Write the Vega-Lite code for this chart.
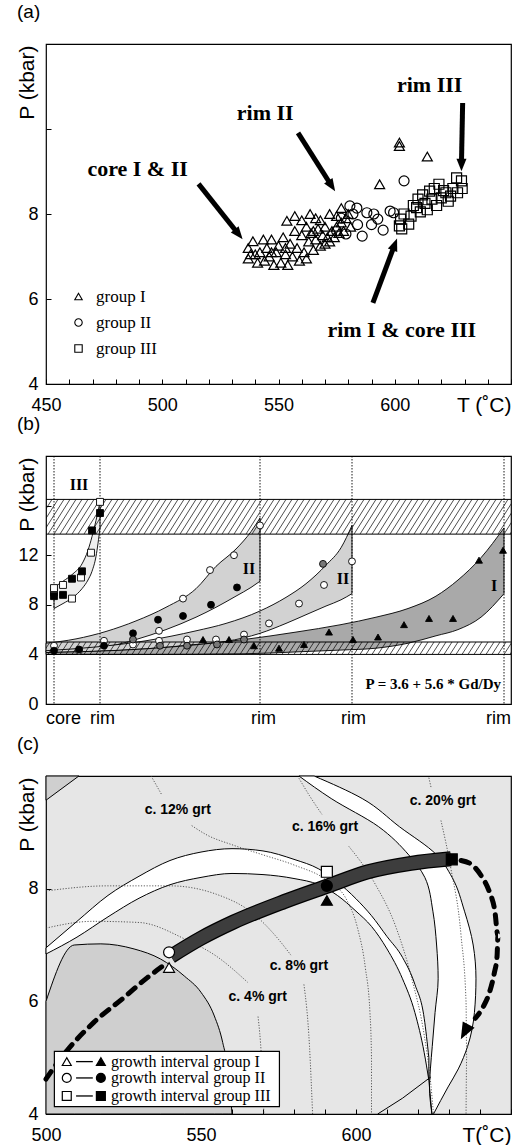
{
"$schema":"https://vega.github.io/schema/vega-lite/v6.json",
"background":"white",
"padding":{"left":15,"top":2,"right":2,"bottom":0},
"bounds":"flush",
"spacing":72,
"resolve":{"scale":{"shape":"independent","fill":"independent"},"legend":{"shape":"independent","fill":"independent"}},
"config":{
  "view":{"stroke":"black","strokeWidth":1.2},
  "font":"Liberation Sans",
  "axis":{"grid":false,"domain":false,"tickColor":"black","tickSize":-5,"tickWidth":1,"labelFontSize":18,"labelColor":"black","labelFont":"Liberation Sans","titleFont":"Liberation Sans","titleFontSize":21,"titleFontWeight":"normal","titleColor":"black","labelOverlap":false,"format":"d"},
  "axisX":{"labelPadding":17,"labelFlush":false,"titleAlign":"right","titleX":465,"titleY":21,"titleBaseline":"middle"},
  "axisY":{"labelPadding":13,"titleAngle":270,"titleAlign":"right","titleX":-19,"titleY":1,"titleBaseline":"middle"},
  "title":{"anchor":"start","frame":"group","dx":-29,"fontSize":19,"fontWeight":"normal","font":"Liberation Sans","offset":13,"color":"black"}
},
"datasets":{
  "pa":[
    {"g":"group I","T":537,"P":7.2},{"g":"group I","T":537,"P":6.95},{"g":"group I","T":538,"P":7.05},{"g":"group I","T":539,"P":7.36},{"g":"group I","T":541,"P":6.85},{"g":"group I","T":542,"P":7.1},{"g":"group I","T":543.5,"P":7.4},{"g":"group I","T":544,"P":6.9},{"g":"group I","T":545,"P":7.2},{"g":"group I","T":546,"P":7.0},{"g":"group I","T":547,"P":7.4},{"g":"group I","T":548,"P":6.8},{"g":"group I","T":549,"P":7.1},{"g":"group I","T":550,"P":7.25},{"g":"group I","T":551,"P":6.85},{"g":"group I","T":552,"P":7.45},{"g":"group I","T":553,"P":7.05},{"g":"group I","T":553.6,"P":7.84},{"g":"group I","T":554,"P":6.8},{"g":"group I","T":555,"P":7.3},{"g":"group I","T":556,"P":7.0},{"g":"group I","T":557,"P":7.95},{"g":"group I","T":557,"P":7.6},{"g":"group I","T":558,"P":7.2},{"g":"group I","T":559,"P":6.9},{"g":"group I","T":560,"P":7.5},{"g":"group I","T":560,"P":7.85},{"g":"group I","T":561,"P":7.1},{"g":"group I","T":562,"P":7.7},{"g":"group I","T":562,"P":6.95},{"g":"group I","T":563,"P":7.35},{"g":"group I","T":563.6,"P":8.0},{"g":"group I","T":564,"P":7.55},{"g":"group I","T":565,"P":7.15},{"g":"group I","T":566,"P":7.9},{"g":"group I","T":566,"P":7.4},{"g":"group I","T":567,"P":7.65},{"g":"group I","T":568,"P":7.25},{"g":"group I","T":568,"P":7.85},{"g":"group I","T":569,"P":7.5},{"g":"group I","T":570,"P":7.3},{"g":"group I","T":570,"P":7.7},{"g":"group I","T":571,"P":7.45},{"g":"group I","T":572,"P":8.0},{"g":"group I","T":572,"P":7.35},{"g":"group I","T":573,"P":7.6},{"g":"group I","T":574,"P":7.45},{"g":"group I","T":575,"P":7.95},{"g":"group I","T":575,"P":7.7},{"g":"group I","T":576,"P":7.55},{"g":"group I","T":577,"P":8.14},{"g":"group I","T":577,"P":7.8},{"g":"group I","T":578,"P":7.6},{"g":"group I","T":579,"P":7.9},{"g":"group I","T":580,"P":8.0},{"g":"group I","T":581,"P":7.7},{"g":"group I","T":547,"P":7.1},{"g":"group I","T":540,"P":7.05},{"g":"group I","T":553,"P":7.2},{"g":"group I","T":565,"P":7.6},{"g":"group I","T":593.5,"P":8.7},{"g":"group I","T":602,"P":9.6},{"g":"group I","T":602,"P":9.68},{"g":"group I","T":614,"P":9.35},
    {"g":"group II","T":580.7,"P":8.19},{"g":"group II","T":583.7,"P":8.14},{"g":"group II","T":588,"P":8.03},{"g":"group II","T":591,"P":8.0},{"g":"group II","T":592.7,"P":7.88},{"g":"group II","T":595,"P":7.62},{"g":"group II","T":586,"P":7.48},{"g":"group II","T":579,"P":7.53},{"g":"group II","T":582,"P":8.0},{"g":"group II","T":598,"P":8.07},{"g":"group II","T":599.5,"P":8.03},{"g":"group II","T":604,"P":8.78},{"g":"group II","T":577,"P":7.9},{"g":"group II","T":575,"P":7.6},{"g":"group II","T":584,"P":7.75},{"g":"group II","T":590,"P":7.75},
    {"g":"group III","T":602,"P":7.72},{"g":"group III","T":603,"P":7.65},{"g":"group III","T":602.5,"P":7.88},{"g":"group III","T":604,"P":8.0},{"g":"group III","T":606,"P":7.76},{"g":"group III","T":607,"P":7.95},{"g":"group III","T":608,"P":8.2},{"g":"group III","T":609.4,"P":8.15},{"g":"group III","T":610,"P":8.35},{"g":"group III","T":611,"P":8.05},{"g":"group III","T":612,"P":8.45},{"g":"group III","T":613,"P":8.25},{"g":"group III","T":614,"P":8.1},{"g":"group III","T":615,"P":8.54},{"g":"group III","T":616,"P":8.35},{"g":"group III","T":617,"P":8.6},{"g":"group III","T":618,"P":8.2},{"g":"group III","T":619,"P":8.7},{"g":"group III","T":620,"P":8.38},{"g":"group III","T":621,"P":8.55},{"g":"group III","T":622,"P":8.5},{"g":"group III","T":623,"P":8.3},{"g":"group III","T":624,"P":8.42},{"g":"group III","T":625,"P":8.6},{"g":"group III","T":626.6,"P":8.85},{"g":"group III","T":628.7,"P":8.78},{"g":"group III","T":629,"P":8.6},{"g":"group III","T":627,"P":8.5}
  ],
  "arrA":[{"n":1,"T1":515.6,"P1":8.71,"T2":532.3,"P2":7.56},{"n":2,"T1":558.4,"P1":9.91,"T2":572.4,"P2":8.7},{"n":3,"T1":629.2,"P1":10.61,"T2":628.7,"P2":9.2},{"n":4,"T1":590.6,"P1":5.91,"T2":599.7,"P2":7.24}],
  "labA":[{"t":"core I & II","T":489.4,"P":9.06},{"t":"rim II","T":544.3,"P":10.38},{"t":"rim III","T":615,"P":11.04},{"t":"rim I & core III","T":603,"P":5.27}],
  "bands":[
    {"b":"IIa","u":0,"hi":4.9,"lo":4.2},{"b":"IIa","u":30,"hi":5.25,"lo":4.35},{"b":"IIa","u":60,"hi":5.85,"lo":4.6},{"b":"IIa","u":90,"hi":6.7,"lo":5.2},{"b":"IIa","u":120,"hi":7.8,"lo":6.0},{"b":"IIa","u":150,"hi":9.3,"lo":7.0},{"b":"IIa","u":170,"hi":11.1,"lo":7.8},{"b":"IIa","u":190,"hi":12.5,"lo":8.7},{"b":"IIa","u":205,"hi":13.9,"lo":9.4},{"b":"IIa","u":214,"hi":15.0,"lo":9.9},
    {"b":"IIb","u":0,"hi":4.3,"lo":4.15},{"b":"IIb","u":50,"hi":4.6,"lo":4.25},{"b":"IIb","u":100,"hi":5.1,"lo":4.45},{"b":"IIb","u":150,"hi":5.9,"lo":4.8},{"b":"IIb","u":180,"hi":6.5,"lo":5.05},{"b":"IIb","u":214,"hi":7.5,"lo":5.7},{"b":"IIb","u":240,"hi":8.6,"lo":6.5},{"b":"IIb","u":260,"hi":9.7,"lo":7.2},{"b":"IIb","u":280,"hi":11.2,"lo":7.9},{"b":"IIb","u":295,"hi":12.6,"lo":8.4},{"b":"IIb","u":306,"hi":14.4,"lo":8.9},
    {"b":"I","u":0,"hi":4.15,"lo":4.0},{"b":"I","u":100,"hi":4.45,"lo":4.0},{"b":"I","u":198,"hi":5.2,"lo":4.05},{"b":"I","u":250,"hi":5.8,"lo":4.2},{"b":"I","u":295,"hi":6.4,"lo":4.35},{"b":"I","u":330,"hi":7.0,"lo":4.5},{"b":"I","u":362,"hi":7.7,"lo":4.9},{"b":"I","u":390,"hi":8.7,"lo":5.5},{"b":"I","u":412,"hi":10.0,"lo":6.0},{"b":"I","u":435,"hi":11.8,"lo":7.0},{"b":"I","u":458,"hi":14.2,"lo":8.9},
    {"b":"III","u":8,"hi":9.4,"lo":7.7},{"b":"III","u":17,"hi":9.9,"lo":8.1},{"b":"III","u":27,"hi":10.5,"lo":8.6},{"b":"III","u":36,"hi":11.3,"lo":9.3},{"b":"III","u":42,"hi":12.4,"lo":10.0},{"b":"III","u":46,"hi":13.5,"lo":10.7},{"b":"III","u":50,"hi":14.8,"lo":11.9},{"b":"III","u":54,"hi":16.3,"lo":14.2}
  ],
  "hatch":[{"s":-22},{"s":-16},{"s":-10},{"s":-4},{"s":2},{"s":8},{"s":14},{"s":20},{"s":26},{"s":32},{"s":38},{"s":44},{"s":50},{"s":56},{"s":62},{"s":68},{"s":74},{"s":80},{"s":86},{"s":92},{"s":98},{"s":104},{"s":110},{"s":116},{"s":122},{"s":128},{"s":134},{"s":140},{"s":146},{"s":152},{"s":158},{"s":164},{"s":170},{"s":176},{"s":182},{"s":188},{"s":194},{"s":200},{"s":206},{"s":212},{"s":218},{"s":224},{"s":230},{"s":236},{"s":242},{"s":248},{"s":254},{"s":260},{"s":266},{"s":272},{"s":278},{"s":284},{"s":290},{"s":296},{"s":302},{"s":308},{"s":314},{"s":320},{"s":326},{"s":332},{"s":338},{"s":344},{"s":350},{"s":356},{"s":362},{"s":368},{"s":374},{"s":380},{"s":386},{"s":392},{"s":398},{"s":404},{"s":410},{"s":416},{"s":422},{"s":428},{"s":434},{"s":440},{"s":446},{"s":452},{"s":458},{"s":464}],
  "hb":[{"p":4.0},{"p":5.0},{"p":13.7},{"p":16.5}],
  "vl":[{"u":8},{"u":54},{"u":214},{"u":306},{"u":458}],
  "bl":[{"t":"III","u":33,"P":17.7},{"t":"II","u":203,"P":10.9},{"t":"II","u":297,"P":10.1},{"t":"I","u":448,"P":9.5}],
  "pb":[
    {"t":"c_o","u":8,"P":4.7},{"t":"c_o","u":33,"P":4.3},{"t":"c_o","u":58,"P":5.1},{"t":"c_o","u":87,"P":4.8},{"t":"c_o","u":113,"P":5.9},{"t":"c_o","u":113,"P":5.1},{"t":"c_o","u":141,"P":5.2},{"t":"c_o","u":170,"P":5.2},{"t":"c_o","u":198,"P":5.6},{"t":"c_o","u":137,"P":8.5},{"t":"c_o","u":164,"P":10.8},{"t":"c_o","u":188,"P":12.0},{"t":"c_o","u":214,"P":14.4},{"t":"c_o","u":223,"P":6.5},{"t":"c_o","u":253,"P":8.1},{"t":"c_o","u":278,"P":9.6},{"t":"c_o","u":306,"P":11.5},
    {"t":"c_f","u":8,"P":4.3},{"t":"c_f","u":33,"P":4.4},{"t":"c_f","u":58,"P":4.7},{"t":"c_f","u":87,"P":5.7},{"t":"c_f","u":112,"P":6.8},{"t":"c_f","u":137,"P":7.1},{"t":"c_f","u":165,"P":8.0},{"t":"c_f","u":191,"P":9.4},
    {"t":"c_g","u":87,"P":5.2},{"t":"c_g","u":114,"P":4.7},{"t":"c_g","u":141,"P":4.7},{"t":"c_g","u":171,"P":4.8},{"t":"c_g","u":198,"P":5.2},{"t":"c_g","u":277,"P":11.3},
    {"t":"tri","u":157,"P":5.2},{"t":"tri","u":183,"P":5.2},{"t":"tri","u":208,"P":4.7},{"t":"tri","u":233,"P":4.5},{"t":"tri","u":258,"P":4.8},{"t":"tri","u":283,"P":5.8},{"t":"tri","u":307,"P":5.2},{"t":"tri","u":332,"P":5.4},{"t":"tri","u":358,"P":6.4},{"t":"tri","u":383,"P":6.9},{"t":"tri","u":407,"P":6.9},{"t":"tri","u":433,"P":11.6},{"t":"tri","u":457,"P":12.4},
    {"t":"sq_o","u":8,"P":9.0},{"t":"sq_o","u":8,"P":9.35},{"t":"sq_o","u":17,"P":9.6},{"t":"sq_o","u":26,"P":8.5},{"t":"sq_o","u":35,"P":10.2},{"t":"sq_o","u":45,"P":12.2},{"t":"sq_o","u":54,"P":16.3},
    {"t":"sq_f","u":8,"P":8.7},{"t":"sq_f","u":17,"P":8.8},{"t":"sq_f","u":26,"P":10.1},{"t":"sq_f","u":36,"P":10.7},{"t":"sq_f","u":46,"P":14.0},{"t":"sq_f","u":54,"P":15.4}
  ],
  "dome":[{"T":500,"P":6.0},{"T":509.1,"P":7.0},{"T":517.7,"P":7.02},{"T":528.4,"P":6.93},{"T":537,"P":6.75},{"T":544.6,"P":6.45},{"T":550,"P":6.16},{"T":554.3,"P":5.74},{"T":557,"P":5.27},{"T":559,"P":4.66},{"T":560,"P":4.0}],
  "corner":[{"T":500,"P":9.57},{"T":510.6,"P":10}],
  "lens":[{"T":500,"hi":6.95,"lo":6.84},{"T":510,"hi":7.42,"lo":7.14},{"T":520,"hi":7.88,"lo":7.5},{"T":530,"hi":8.22,"lo":7.83},{"T":540,"hi":8.5,"lo":8.07},{"T":550,"hi":8.65,"lo":8.2},{"T":560,"hi":8.71,"lo":8.27},{"T":570,"hi":8.67,"lo":8.25},{"T":580,"hi":8.52,"lo":8.18},{"T":588,"hi":8.35,"lo":8.07},{"T":594,"hi":8.12,"lo":7.88},{"T":600,"hi":7.82,"lo":7.6},{"T":605,"hi":7.52,"lo":7.33},{"T":610,"hi":7.15,"lo":6.93},{"T":615,"hi":6.78,"lo":6.4},{"T":619,"hi":6.3,"lo":5.8},{"T":622,"hi":5.7,"lo":5.09},{"T":623.5,"hi":5.0,"lo":4.6}],
  "cres":[{"P":10,"a":581.6,"b":586.5},{"P":9.6,"a":592,"b":602},{"P":9.1,"a":607.3,"b":614},{"P":8.6,"a":617,"b":626},{"P":8.2,"a":622.2,"b":631},{"P":7.6,"a":624.8,"b":635},{"P":7.0,"a":626,"b":637.8},{"P":6.4,"a":626.5,"b":638.7},{"P":5.8,"a":625.5,"b":638.2},{"P":5.2,"a":624.6,"b":636},{"P":4.8,"a":624,"b":633},{"P":4.48,"a":623.7,"b":629.7},{"P":4.0,"a":624.5,"b":625}],
  "sol":[{"c":"x1","i":0,"T":607,"P":4.0},{"c":"x1","i":1,"T":615,"P":4.28},{"c":"x1","i":2,"T":624.2,"P":4.66},{"c":"x2","i":0,"T":623.5,"P":4.6},{"c":"x2","i":1,"T":624.5,"P":4.0}],
  "iso":[
    {"c":"a","i":0,"T":533.9,"P":10},{"c":"a","i":1,"T":537.2,"P":9.68},
    {"c":"b","i":0,"T":547,"P":9.12},{"c":"b","i":1,"T":552,"P":8.95},{"c":"b","i":2,"T":560,"P":8.78},{"c":"b","i":3,"T":570,"P":8.6},{"c":"b","i":4,"T":580,"P":8.42},{"c":"b","i":5,"T":591,"P":8.13},{"c":"b","i":6,"T":597,"P":7.8},{"c":"b","i":7,"T":600.5,"P":7.3},{"c":"b","i":8,"T":603,"P":6.6},{"c":"b","i":9,"T":604.5,"P":5.8},{"c":"b","i":10,"T":605,"P":5.0},{"c":"b","i":11,"T":605,"P":4.0},
    {"c":"c","i":0,"T":581.6,"P":9.96},{"c":"c","i":1,"T":585,"P":9.65},{"c":"c","i":2,"T":589,"P":9.32},
    {"c":"d","i":0,"T":597.7,"P":8.75},{"c":"d","i":1,"T":606,"P":8.1},{"c":"d","i":2,"T":613,"P":7.3},{"c":"d","i":3,"T":618,"P":6.4},{"c":"d","i":4,"T":622,"P":5.4},{"c":"d","i":5,"T":624,"P":4.6},{"c":"d","i":6,"T":625,"P":4.0},
    {"c":"e","i":0,"T":623.5,"P":9.97},{"c":"e","i":1,"T":624.2,"P":9.8},
    {"c":"f","i":0,"T":627.4,"P":9.21},{"c":"f","i":1,"T":630.6,"P":8.36},{"c":"f","i":2,"T":633.9,"P":7.16},{"c":"f","i":3,"T":635.5,"P":5.98},{"c":"f","i":4,"T":635.7,"P":5.0},{"c":"f","i":5,"T":635.5,"P":4.0},
    {"c":"g","i":0,"T":500,"P":7.3},{"c":"g","i":1,"T":515,"P":7.42},{"c":"g","i":2,"T":530,"P":7.4},{"c":"g","i":3,"T":545,"P":7.1},{"c":"g","i":4,"T":555,"P":6.8},{"c":"g","i":5,"T":565,"P":6.34},
    {"c":"m","i":0,"T":568.4,"P":5.73},{"c":"m","i":1,"T":569.5,"P":5.0},{"c":"m","i":2,"T":570.3,"P":4.0},
    {"c":"k","i":0,"T":500,"P":7.96},{"c":"k","i":1,"T":520,"P":8.05},{"c":"k","i":2,"T":540,"P":8.05},{"c":"k","i":3,"T":555,"P":7.9},{"c":"k","i":4,"T":567,"P":7.55},{"c":"k","i":5,"T":575,"P":7.1},{"c":"k","i":6,"T":579,"P":6.82},
    {"c":"h","i":0,"T":583.2,"P":6.3},{"c":"h","i":1,"T":585,"P":5.2},{"c":"h","i":2,"T":586,"P":4.0}
  ],
  "clab":[{"t":"c. 12% grt","T":542.5,"P":9.39},{"t":"c. 16% grt","T":590,"P":9.09},{"t":"c. 20% grt","T":628,"P":9.55},{"t":"c. 8% grt","T":581.6,"P":6.63},{"t":"c. 4% grt","T":568.3,"P":6.07}],
  "dashL":[{"T":500,"P":4.62},{"T":502,"P":4.78},{"T":507,"P":5.14},{"T":515.5,"P":5.63},{"T":525.2,"P":6.07},{"T":532.9,"P":6.43},{"T":538.5,"P":6.66}],
  "dashR":[{"i":0,"T":633.9,"P":8.5},{"i":1,"T":637.5,"P":8.42},{"i":2,"T":640.5,"P":8.22},{"i":3,"T":643,"P":7.95},{"i":4,"T":644.8,"P":7.6},{"i":5,"T":645.8,"P":7.16},{"i":6,"T":645.5,"P":6.8},{"i":7,"T":644.6,"P":6.5},{"i":8,"T":643,"P":6.15},{"i":9,"T":641,"P":5.9},{"i":10,"T":638.5,"P":5.7}],
  "tpath":[{"T":540.3,"P":6.8},{"T":550,"P":7.12},{"T":560.6,"P":7.41},{"T":576.8,"P":7.77},{"T":591,"P":8.05},{"T":603.9,"P":8.3},{"T":617.7,"P":8.45},{"T":630.6,"P":8.53}],
  "ahead":[{"T":635.5,"P":5.5}],
  "mk":[{"t":"tri_o","T":539.7,"P":6.6},{"t":"cir_o","T":539.7,"P":6.87},{"t":"tri_f","T":590.6,"P":7.79},{"t":"cir_f","T":590.6,"P":8.05},{"t":"sq_o","T":590.6,"P":8.3},{"t":"sq_f","T":630.9,"P":8.52}],
  "lbox":[{"T1":502.7,"T2":575.3,"P1":4.13,"P2":5.11}],
  "lsym":[{"t":"tri_o","T":506.7,"P":4.93},{"t":"tri_f","T":517.7,"P":4.93},{"t":"cir_o","T":506.7,"P":4.64},{"t":"cir_f","T":517.7,"P":4.64},{"t":"sq_o","T":506.7,"P":4.32},{"t":"sq_f","T":517.7,"P":4.32}],
  "ltxt":[{"t":"growth interval group I","P":4.93},{"t":"growth interval group II","P":4.64},{"t":"growth interval group III","P":4.32}]
},
"vconcat":[
 {
  "width":465,"height":340,
  "title":{"text":"(a)"},
  "resolve":{"axis":{"x":"independent"}},
  "layer":[
   {"data":{"name":"pa"},
    "mark":{"type":"point","filled":false,"color":"black","strokeWidth":1.2,"size":100,"opacity":1},
    "encoding":{
      "x":{"field":"T","type":"quantitative","scale":{"domain":[450,650],"nice":false,"zero":false},
           "axis":{"orient":"bottom","values":[450,460,470,480,490,500,510,520,530,540,550,560,570,580,590,600,610,620,630,640,650],"labels":false,"title":"T (˚C)"}},
      "y":{"field":"P","type":"quantitative","scale":{"domain":[4,12],"nice":false,"zero":false},
           "axis":{"values":[4,6,8,10,12],"labelExpr":"datum.value <= 8 ? datum.label : ''","title":"P (kbar)"}},
      "shape":{"field":"g","type":"nominal","scale":{"domain":["group I","group II","group III"],"range":["triangle-up","circle","square"]},
           "legend":{"orient":"none","legendX":24,"legendY":244,"title":null,"labelFont":"Liberation Serif","labelFontSize":17,"labelColor":"black","symbolSize":55,"symbolStrokeColor":"black","symbolStrokeWidth":1.1,"rowPadding":8,"labelOffset":9,"padding":0}}
    }},
   {"data":{"name":"arrA"},"mark":{"type":"rule","strokeWidth":5,"color":"black"},
    "encoding":{"x":{"field":"T1","type":"quantitative","axis":null},"y":{"field":"P1","type":"quantitative"},"x2":{"field":"T2"},"y2":{"field":"P2"}}},
   {"data":{"name":"arrA"},"transform":[{"filter":"datum.n == 1"}],"mark":{"type":"point","shape":"M0,-1L0.6,0.5L-0.6,0.5Z","angle":141,"size":280,"filled":true,"color":"black","opacity":1},
    "encoding":{"x":{"field":"T2","type":"quantitative","axis":null},"y":{"field":"P2","type":"quantitative"}}},
   {"data":{"name":"arrA"},"transform":[{"filter":"datum.n == 2"}],"mark":{"type":"point","shape":"M0,-1L0.6,0.5L-0.6,0.5Z","angle":147,"size":280,"filled":true,"color":"black","opacity":1},
    "encoding":{"x":{"field":"T2","type":"quantitative","axis":null},"y":{"field":"P2","type":"quantitative"}}},
   {"data":{"name":"arrA"},"transform":[{"filter":"datum.n == 3"}],"mark":{"type":"point","shape":"M0,-1L0.6,0.5L-0.6,0.5Z","angle":180,"size":280,"filled":true,"color":"black","opacity":1},
    "encoding":{"x":{"field":"T2","type":"quantitative","axis":null},"y":{"field":"P2","type":"quantitative"}}},
   {"data":{"name":"arrA"},"transform":[{"filter":"datum.n == 4"}],"mark":{"type":"point","shape":"M0,-1L0.6,0.5L-0.6,0.5Z","angle":21,"size":280,"filled":true,"color":"black","opacity":1},
    "encoding":{"x":{"field":"T2","type":"quantitative","axis":null},"y":{"field":"P2","type":"quantitative"}}},
   {"data":{"name":"labA"},"mark":{"type":"text","font":"Liberation Serif","fontWeight":"bold","fontSize":22,"color":"black","align":"center","baseline":"middle"},
    "encoding":{"x":{"field":"T","type":"quantitative","axis":{"orient":"bottom","values":[450,500,550,600],"ticks":false,"labelPadding":12,"title":null}},"y":{"field":"P","type":"quantitative"},"text":{"field":"t"}}}
  ]
 },
 {
  "width":465,"height":248,
  "title":{"text":"(b)"},
  "layer":[
   {"data":{"name":"bands"},"transform":[{"filter":"datum.b == 'IIa'"}],"mark":{"type":"area","interpolate":"monotone","fill":"#d2d2d2","stroke":"black","strokeWidth":0.9,"opacity":1},
    "encoding":{"x":{"field":"u","type":"quantitative","scale":{"domain":[0,465],"nice":false,"zero":false},
         "axis":{"values":[17,56,217,307,452],"labelExpr":"datum.value == 17 ? 'core' : 'rim'","ticks":false,"labelPadding":5,"title":null}},
       "y":{"field":"hi","type":"quantitative","scale":{"domain":[0,20],"nice":false,"zero":false},
         "axis":{"values":[0,2,4,6,8,10,12,14,16,18,20],"labelExpr":"datum.value % 4 == 0 && datum.value <= 12 ? datum.label : ''","title":"P (kbar)"}},
       "y2":{"field":"lo"}}},
   {"data":{"name":"bands"},"transform":[{"filter":"datum.b == 'IIb'"}],"mark":{"type":"area","interpolate":"monotone","fill":"#d2d2d2","stroke":"black","strokeWidth":0.9,"opacity":1},
    "encoding":{"x":{"field":"u","type":"quantitative"},"y":{"field":"hi","type":"quantitative"},"y2":{"field":"lo"}}},
   {"data":{"name":"bands"},"transform":[{"filter":"datum.b == 'I'"}],"mark":{"type":"area","interpolate":"monotone","fill":"#a9a9a9","stroke":"black","strokeWidth":0.9,"opacity":1},
    "encoding":{"x":{"field":"u","type":"quantitative"},"y":{"field":"hi","type":"quantitative"},"y2":{"field":"lo"}}},
   {"data":{"name":"bands"},"transform":[{"filter":"datum.b == 'III'"}],"mark":{"type":"area","interpolate":"monotone","fill":"#eeeeee","stroke":"black","strokeWidth":0.9,"opacity":1},
    "encoding":{"x":{"field":"u","type":"quantitative"},"y":{"field":"hi","type":"quantitative"},"y2":{"field":"lo"}}},
   {"data":{"name":"hatch"},"mark":{"type":"rule","x2Offset":22,"strokeWidth":0.7,"color":"black","clip":true},
    "encoding":{"x":{"field":"s","type":"quantitative"},"x2":{"field":"s"},"y":{"datum":13.7},"y2":{"datum":16.5}}},
   {"data":{"name":"hatch"},"mark":{"type":"rule","x2Offset":8,"strokeWidth":0.7,"color":"black","clip":true},
    "encoding":{"x":{"field":"s","type":"quantitative"},"x2":{"field":"s"},"y":{"datum":4.0},"y2":{"datum":5.0}}},
   {"data":{"name":"hb"},"mark":{"type":"rule","strokeWidth":1,"color":"black"},
    "encoding":{"y":{"field":"p","type":"quantitative"}}},
   {"data":{"name":"vl"},"mark":{"type":"rule","strokeWidth":0.9,"color":"black","strokeDash":[1.5,1.5]},
    "encoding":{"x":{"field":"u","type":"quantitative"}}},
   {"data":{"name":"bl"},"mark":{"type":"text","font":"Liberation Serif","fontWeight":"bold","fontSize":16,"color":"black","align":"center","baseline":"middle"},
    "encoding":{"x":{"field":"u","type":"quantitative"},"y":{"field":"P","type":"quantitative"},"text":{"field":"t"}}},
   {"data":{"name":"pb"},"mark":{"type":"point","filled":true,"stroke":"black","strokeWidth":0.9,"size":48,"opacity":1},
    "encoding":{"x":{"field":"u","type":"quantitative"},"y":{"field":"P","type":"quantitative"},
      "shape":{"field":"t","type":"nominal","scale":{"domain":["sq_o","sq_f","c_o","c_f","c_g","tri"],"range":["square","square","circle","circle","circle","triangle-up"]},"legend":null},
      "fill":{"field":"t","type":"nominal","scale":{"domain":["sq_o","sq_f","c_o","c_f","c_g","tri"],"range":["white","black","white","black","#777777","black"]},"legend":null}}},
   {"data":{"values":[{"t":"P = 3.6 + 5.6 * Gd/Dy","u":455,"P":1.6}]},"mark":{"type":"text","font":"Liberation Serif","fontWeight":"bold","fontSize":15,"color":"black","align":"right","baseline":"middle"},
    "encoding":{"x":{"field":"u","type":"quantitative"},"y":{"field":"P","type":"quantitative"},"text":{"field":"t"}}}
  ]
 },
 {
  "width":465,"height":338,
  "title":{"text":"(c)"},
  "view":{"fill":"#e6e6e6","stroke":"black","strokeWidth":1.2},
  "resolve":{"axis":{"x":"independent"}},
  "layer":[
   {"data":{"name":"dome"},"mark":{"type":"area","interpolate":"monotone","fill":"#cfcfcf","stroke":"black","strokeWidth":1,"opacity":1},
    "encoding":{"x":{"field":"T","type":"quantitative","scale":{"domain":[500,650],"nice":false,"zero":false},
        "axis":{"orient":"bottom","values":[500,510,520,530,540,550,560,570,580,590,600,610,620,630,640,650],"labels":false,"title":"T(˚C)"}},
      "y":{"field":"P","type":"quantitative","scale":{"domain":[4,10],"nice":false,"zero":false},
        "axis":{"values":[4,6,8,10],"labelExpr":"datum.value <= 8 ? datum.label : ''","title":"P (kbar)"}},
      "y2":{"datum":4}}},
   {"data":{"name":"corner"},"mark":{"type":"area","fill":"#cfcfcf","stroke":"black","strokeWidth":1,"opacity":1},
    "encoding":{"x":{"field":"T","type":"quantitative","axis":null},"y":{"field":"P","type":"quantitative"},"y2":{"datum":10}}},
   {"data":{"name":"lens"},"mark":{"type":"area","interpolate":"monotone","fill":"white","stroke":"black","strokeWidth":1,"opacity":1},
    "encoding":{"x":{"field":"T","type":"quantitative","axis":null},"y":{"field":"hi","type":"quantitative"},"y2":{"field":"lo"}}},
   {"data":{"name":"cres"},"mark":{"type":"area","orient":"horizontal","interpolate":"monotone","fill":"white","stroke":"black","strokeWidth":1,"opacity":1},
    "encoding":{"y":{"field":"P","type":"quantitative"},"x":{"field":"a","type":"quantitative","axis":null},"x2":{"field":"b"}}},
   {"data":{"name":"sol"},"mark":{"type":"line","stroke":"black","strokeWidth":1},
    "encoding":{"x":{"field":"T","type":"quantitative","axis":null},"y":{"field":"P","type":"quantitative"},"detail":{"field":"c"},"order":{"field":"i"}}},
   {"data":{"name":"iso"},"mark":{"type":"line","interpolate":"monotone","stroke":"#333333","strokeWidth":0.8,"strokeDash":[1.2,1.6]},
    "encoding":{"x":{"field":"T","type":"quantitative","axis":null},"y":{"field":"P","type":"quantitative"},"detail":{"field":"c"},"order":{"field":"i"}}},
   {"data":{"name":"clab"},"mark":{"type":"text","font":"Liberation Sans","fontWeight":"bold","fontSize":14,"color":"black","align":"center","baseline":"middle"},
    "encoding":{"x":{"field":"T","type":"quantitative","axis":{"orient":"bottom","values":[500,550,600],"ticks":false,"labelPadding":12,"title":null}},"y":{"field":"P","type":"quantitative"},"text":{"field":"t"}}},
   {"data":{"name":"dashL"},"mark":{"type":"line","interpolate":"monotone","stroke":"black","strokeWidth":5,"strokeDash":[9,8],"strokeCap":"round"},
    "encoding":{"x":{"field":"T","type":"quantitative","axis":null},"y":{"field":"P","type":"quantitative"}}},
   {"data":{"name":"dashR"},"mark":{"type":"line","interpolate":"monotone","stroke":"black","strokeWidth":5,"strokeDash":[9,8],"strokeCap":"round"},
    "encoding":{"x":{"field":"T","type":"quantitative","axis":null},"y":{"field":"P","type":"quantitative"},"order":{"field":"i"}}},
   {"data":{"name":"tpath"},"mark":{"type":"line","interpolate":"monotone","stroke":"black","strokeWidth":15,"strokeCap":"butt"},
    "encoding":{"x":{"field":"T","type":"quantitative","axis":null},"y":{"field":"P","type":"quantitative"}}},
   {"data":{"name":"tpath"},"mark":{"type":"line","interpolate":"monotone","stroke":"#3d3d3d","strokeWidth":12.5,"strokeCap":"butt"},
    "encoding":{"x":{"field":"T","type":"quantitative","axis":null},"y":{"field":"P","type":"quantitative"}}},
   {"data":{"name":"ahead"},"mark":{"type":"point","shape":"M0,-1L0.6,0.5L-0.6,0.5Z","angle":208,"size":500,"filled":true,"color":"black","opacity":1},
    "encoding":{"x":{"field":"T","type":"quantitative","axis":null},"y":{"field":"P","type":"quantitative"}}},
   {"data":{"name":"mk"},"mark":{"type":"point","filled":true,"stroke":"black","strokeWidth":1.2,"size":120,"opacity":1},
    "encoding":{"x":{"field":"T","type":"quantitative","axis":null},"y":{"field":"P","type":"quantitative"},
      "shape":{"field":"t","type":"nominal","scale":{"domain":["tri_o","tri_f","cir_o","cir_f","sq_o","sq_f"],"range":["triangle-up","triangle-up","circle","circle","square","square"]},"legend":null},
      "fill":{"field":"t","type":"nominal","scale":{"domain":["tri_o","tri_f","cir_o","cir_f","sq_o","sq_f"],"range":["white","black","white","black","white","black"]},"legend":null}}},
   {"data":{"name":"lbox"},"mark":{"type":"rect","fill":"white","stroke":"black","strokeWidth":1.2},
    "encoding":{"x":{"field":"T1","type":"quantitative","axis":null},"x2":{"field":"T2"},"y":{"field":"P1","type":"quantitative"},"y2":{"field":"P2"}}},
   {"data":{"name":"ltxt"},"mark":{"type":"rule","stroke":"black","strokeWidth":1.3},
    "encoding":{"x":{"datum":509.7,"type":"quantitative","axis":null},"x2":{"datum":515.1},"y":{"field":"P","type":"quantitative"}}},
   {"data":{"name":"lsym"},"mark":{"type":"point","filled":true,"stroke":"black","strokeWidth":1.2,"size":80,"opacity":1},
    "encoding":{"x":{"field":"T","type":"quantitative","axis":null},"y":{"field":"P","type":"quantitative"},
      "shape":{"field":"t","type":"nominal","legend":null},
      "fill":{"field":"t","type":"nominal","legend":null}}},
   {"data":{"name":"ltxt"},"mark":{"type":"text","font":"Liberation Serif","fontSize":16,"color":"black","align":"left","baseline":"middle"},
    "encoding":{"x":{"datum":521,"type":"quantitative","axis":null},"y":{"field":"P","type":"quantitative"},"text":{"field":"t"}}}
  ]
 }
]
}
